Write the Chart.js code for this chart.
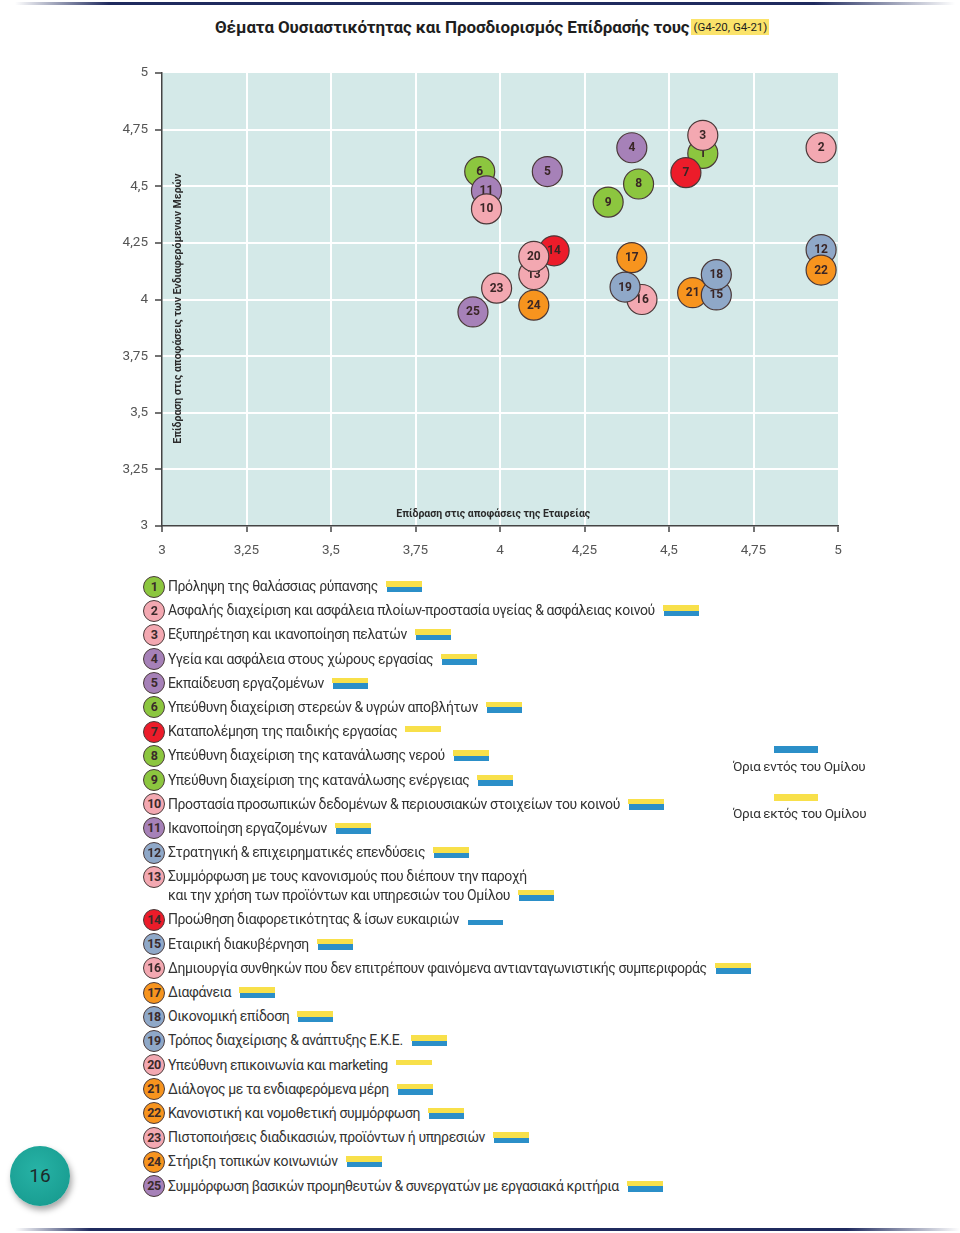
<!DOCTYPE html>
<html lang="el">
<head>
<meta charset="utf-8">
<script src="https://cdn.jsdelivr.net/npm/chart.js@4.4.1/dist/chart.umd.min.js"></script>
<style>
  html, body { margin: 0; padding: 0; background: #fff; }
  body { width: 960px; height: 1233px; position: relative; overflow: hidden; font-family: Roboto, "Noto Sans", sans-serif; color: #333; }
  #topline { position: absolute; left: 15px; top: 2px; width: 940px; height: 3px;
    background: linear-gradient(to right, rgba(30,40,90,0) 0%, #1f2a5e 10%, #1f2a5e 85%, rgba(30,40,90,0) 100%); }
  #bottomline { position: absolute; left: 15px; top: 1228px; width: 945px; height: 3px;
    background: linear-gradient(to right, rgba(30,40,90,0) 0%, #1f2a5e 8%, #1f2a5e 88%, rgba(30,40,90,0) 100%); }
  #title { position: absolute; left: 215px; top: 17px; font-size: 17px; font-weight: 700; color: #1e1e1e; white-space: nowrap; letter-spacing: -0.1px; }
  #title .code { font-size: 11.5px; font-weight: 400; background: #fbe36a; padding: 1px 2px; margin-left: 2px; vertical-align: 2px; letter-spacing: 0; }
  #chartBox { position: absolute; left: 0; top: 0; width: 960px; height: 575px; }
  #legend { position: absolute; left: 143px; top: 574px; }
  .row { position: relative; height: 24.2px; line-height: 24.2px; white-space: nowrap; font-size: 14px; color: #333; letter-spacing: -0.4px; }
  .row.two { height: 43.2px; }
  .row .num { position: absolute; left: 0px; top: 1.5px; width: 20px; height: 20px; border-radius: 50%; border: 1px solid #4a3b3b;
    font-size: 12.5px; font-weight: 700; line-height: 20px; text-align: center; color: #3a2a2a; letter-spacing: -0.5px; }
  .row .txt { position: absolute; left: 25px; top: 0; }
  .row.two .txt { line-height: 19px; top: 2.6px; }
  .bars { display: inline-block; width: 36px; height: 11px; margin-left: 8px; vertical-align: -1px; position: relative; }
  .bars .y { position: absolute; left: 0; top: 0; width: 36px; height: 5.5px; background: #f8e04a; }
  .bars .b { position: absolute; left: 1px; top: 5.5px; width: 35px; height: 5.5px; background: #2b8fc8; }
  #side { position: absolute; left: 733px; top: 740px; font-size: 13.5px; color: #333; letter-spacing: -0.4px; }
  #side .bar { position: absolute; left: 41px; width: 44px; height: 7px; }
  #side .t { position: absolute; left: 0; white-space: nowrap; }
  #page { position: absolute; left: 10px; top: 1146px; width: 60px; height: 60px; border-radius: 50%;
    background: radial-gradient(circle at 45% 40%, #27b3a6 0%, #1a9f93 70%, #168f84 100%);
    box-shadow: 2px 4px 6px rgba(0,0,0,0.35); text-align: center; line-height: 60px; font-size: 19px; color: #1d2a2a; }
</style>
</head>
<body>
<div id="topline"></div>
<div id="title">Θέματα Ουσιαστικότητας και Προσδιορισμός Επίδρασής τους<span class="code">(G4-20, G4-21)</span></div>
<div id="chartBox"><canvas id="c" width="960" height="575"></canvas></div>
<div id="legend"></div>
<div id="side">
  <div class="bar" style="top:6px;background:#2b8fc8"></div>
  <div class="t" style="top:18px">Όρια εντός του Ομίλου</div>
  <div class="bar" style="top:54px;background:#f8e04a"></div>
  <div class="t" style="top:65px">Όρια εκτός του Ομίλου</div>
</div>
<div id="page">16</div>
<div id="bottomline"></div>
<script>
// ---------- DATA ----------
const issueIds = [1,2,3,4,5,6,7,8,9,10,11,12,13,14,15,16,17,18,19,20,21,22,23,24,25];
const issueNames = [
  "Πρόληψη της θαλάσσιας ρύπανσης",
  "Ασφαλής διαχείριση και ασφάλεια πλοίων-προστασία υγείας & ασφάλειας κοινού",
  "Εξυπηρέτηση και ικανοποίηση πελατών",
  "Υγεία και ασφάλεια στους χώρους εργασίας",
  "Εκπαίδευση εργαζομένων",
  "Υπεύθυνη διαχείριση στερεών & υγρών αποβλήτων",
  "Καταπολέμηση της παιδικής εργασίας",
  "Υπεύθυνη διαχείριση της κατανάλωσης νερού",
  "Υπεύθυνη διαχείριση της κατανάλωσης ενέργειας",
  "Προστασία προσωπικών δεδομένων & περιουσιακών στοιχείων του κοινού",
  "Ικανοποίηση εργαζομένων",
  "Στρατηγική & επιχειρηματικές επενδύσεις",
  "Συμμόρφωση με τους κανονισμούς που διέπουν την παροχή\nκαι την χρήση των προϊόντων και υπηρεσιών του Ομίλου",
  "Προώθηση διαφορετικότητας & ίσων ευκαιριών",
  "Εταιρική διακυβέρνηση",
  "Δημιουργία συνθηκών που δεν επιτρέπουν φαινόμενα αντιανταγωνιστικής συμπεριφοράς",
  "Διαφάνεια",
  "Οικονομική επίδοση",
  "Τρόπος διαχείρισης & ανάπτυξης Ε.Κ.Ε.",
  "Υπεύθυνη επικοινωνία και marketing",
  "Διάλογος με τα ενδιαφερόμενα μέρη",
  "Κανονιστική και νομοθετική συμμόρφωση",
  "Πιστοποιήσεις διαδικασιών, προϊόντων ή υπηρεσιών",
  "Στήριξη τοπικών κοινωνιών",
  "Συμμόρφωση βασικών προμηθευτών & συνεργατών με εργασιακά κριτήρια"
];
// x: Επίδραση στις αποφάσεις της Εταιρείας
const impactCompany = [4.60, 4.95, 4.60, 4.39, 4.14, 3.94, 4.55, 4.41, 4.32, 3.96, 3.96, 4.95, 4.10,
                       4.16, 4.64, 4.42, 4.39, 4.64, 4.37, 4.10, 4.57, 4.95, 3.99, 4.10, 3.92];
// y: Επίδραση στις αποφάσεις των Ενδιαφερόμενων Μερών
const impactStakeholders = [4.645, 4.67, 4.725, 4.67, 4.565, 4.565, 4.56, 4.51, 4.43, 4.40, 4.48, 4.22, 4.11,
                            4.215, 4.02, 4.00, 4.185, 4.11, 4.055, 4.19, 4.03, 4.13, 4.05, 3.975, 3.945];
const issueGroups = ["green","pink","pink","purple","purple","green","red","green","green","pink","purple","blue","pink",
                     "red","blue","pink","orange","blue","blue","pink","orange","orange","pink","orange","purple"];
// Όρια εντός (μπλε) / εκτός (κίτρινο) του Ομίλου
const boundaryInside  = [1,1,1,1,1,1,0,1,1,1,1,1,1,1,1,1,1,1,1,0,1,1,1,1,1];
const boundaryOutside = [1,1,1,1,1,1,1,1,1,1,1,1,1,0,1,1,1,1,1,1,1,1,1,1,1];
const drawOrder = [1,3,7,2,4,5,8,9,6,11,10,12,22,13,14,20,21,15,18,16,19,17,23,24,25];
const axisTicks = [3, 3.25, 3.5, 3.75, 4, 4.25, 4.5, 4.75, 5];
const xTitle = "Επίδραση στις αποφάσεις της Εταιρείας";
const yTitle = "Επίδραση στις αποφάσεις των Ενδιαφερόμενων Μερών";

// ---------- STYLE ----------
const groupColor = { green: "#8cc63f", pink: "#f3a8b1", purple: "#a681b8", red: "#ec1c2a", orange: "#f7941e", blue: "#8fa8c8" };
const FONT = "Roboto, 'Noto Sans', sans-serif";

// ---------- LEGEND (HTML) ----------
const legend = document.getElementById("legend");
issueIds.forEach((id, i) => {
  const row = document.createElement("div");
  const twoLines = issueNames[i].includes("\n");
  row.className = "row" + (twoLines ? " two" : "");
  const num = document.createElement("div");
  num.className = "num";
  num.style.background = groupColor[issueGroups[i]];
  num.textContent = id;
  row.appendChild(num);
  const txt = document.createElement("div");
  txt.className = "txt";
  const parts = issueNames[i].split("\n");
  parts.forEach((p, k) => {
    if (k > 0) txt.appendChild(document.createElement("br"));
    txt.appendChild(document.createTextNode(p));
  });
  const bars = document.createElement("span");
  bars.className = "bars";
  if (boundaryOutside[i]) { const y = document.createElement("span"); y.className = "y"; bars.appendChild(y); }
  if (boundaryInside[i]) { const b = document.createElement("span"); b.className = "b"; bars.appendChild(b); }
  txt.appendChild(bars);
  row.appendChild(txt);
  legend.appendChild(row);
});

// ---------- CHART ----------
const fmt = v => String(v).replace(".", ",");
const datasets = drawOrder.map((id, k) => {
  const i = id - 1;
  return {
    label: id + ". " + issueNames[i].replace("\n", " "),
    data: [{ x: impactCompany[i], y: impactStakeholders[i], r: 15 }],
    backgroundColor: groupColor[issueGroups[i]],
    borderColor: "#4a3838",
    borderWidth: 1.2,
    order: drawOrder.length - k,
    issueId: id
  };
});

const plotBg = {
  id: "plotBg",
  beforeDraw(chart) {
    const { ctx, chartArea: a } = chart;
    ctx.save();
    ctx.fillStyle = "#d4e9e8";
    ctx.fillRect(a.left, a.top, a.right - a.left, a.bottom - a.top);
    ctx.restore();
  }
};
const innerTitles = {
  id: "innerTitles",
  beforeDatasetsDraw(chart) {
    const { ctx, chartArea: a, scales } = chart;
    ctx.save();
    ctx.fillStyle = "#2b2b2b";
    ctx.font = "bold 10.5px " + FONT;
    ctx.textAlign = "center";
    ctx.textBaseline = "middle";
    ctx.fillText(xTitle, scales.x.getPixelForValue(3.98), a.bottom - 12);
    ctx.translate(a.left + 16, scales.y.getPixelForValue(3.96));
    ctx.rotate(-Math.PI / 2);
    ctx.fillText(yTitle, 0, 0);
    ctx.restore();
  }
};
const bubbleLabels = {
  id: "bubbleLabels",
  afterDatasetDraw(chart, args) {
    const ds = chart.data.datasets[args.index];
    const meta = args.meta;
    const { ctx } = chart;
    ctx.save();
    ctx.fillStyle = "#3a2626";
    ctx.font = "bold 12px " + FONT;
    ctx.textAlign = "center";
    ctx.textBaseline = "middle";
    meta.data.forEach(el => ctx.fillText(String(ds.issueId), el.x, el.y + 0.5));
    ctx.restore();
  }
};

new Chart(document.getElementById("c"), {
  type: "bubble",
  data: { datasets },
  options: {
    responsive: false,
    animation: false,
    events: [],
    layout: { padding: { left: 102, right: 122, top: 73, bottom: 9 } },
    plugins: { legend: { display: false }, tooltip: { enabled: false }, title: { display: false } },
    scales: {
      x: {
        type: "linear", min: 3, max: 5,
        afterBuildTicks: s => { s.ticks = axisTicks.map(v => ({ value: v })); },
        afterFit: s => { s.height = 40; },
        ticks: { callback: v => fmt(v), color: "#555", font: { family: FONT, size: 13.5 }, padding: 11, maxRotation: 0 },
        grid: { color: c => (c.tick && (c.tick.value === 3 || c.tick.value === 5)) ? "rgba(0,0,0,0)" : "#ffffff",
                lineWidth: 2, tickColor: "#444", tickLength: 6, tickWidth: 1.5, drawOnChartArea: true },
        border: { color: "#444", width: 1.5 }
      },
      y: {
        type: "linear", min: 3, max: 5,
        afterBuildTicks: s => { s.ticks = axisTicks.map(v => ({ value: v })); },
        afterFit: s => { s.width = 60; },
        ticks: { callback: v => fmt(v), color: "#555", font: { family: FONT, size: 13.5 }, padding: 7 },
        grid: { color: c => (c.tick && (c.tick.value === 3 || c.tick.value === 5)) ? "rgba(0,0,0,0)" : "#ffffff",
                lineWidth: 2, tickColor: "#444", tickLength: 7, tickWidth: 1.5, drawOnChartArea: true },
        border: { color: "#444", width: 1.5 }
      }
    }
  },
  plugins: [plotBg, innerTitles, bubbleLabels]
});
</script>
</body>
</html>
